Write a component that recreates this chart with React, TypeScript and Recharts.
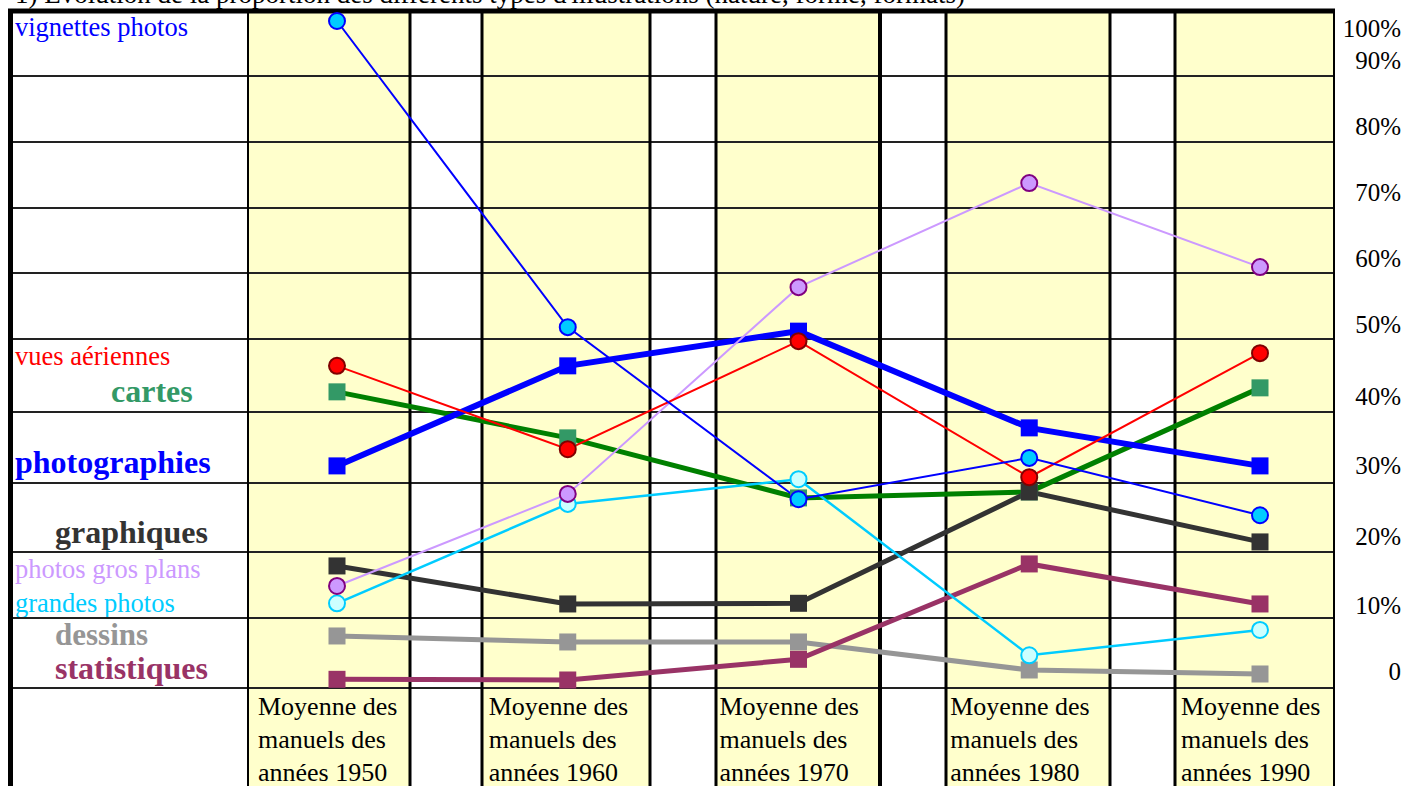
import React from "react";
import {
  LineChart,
  Line,
  XAxis,
  YAxis,
  ReferenceArea,
  ReferenceLine,
  Customized
} from "recharts";

// valeurs, en % des illustrations
const categories = [
  "Moyenne des manuels des années 1950",
  "Moyenne des manuels des années 1960",
  "Moyenne des manuels des années 1970",
  "Moyenne des manuels des années 1980",
  "Moyenne des manuels des années 1990"
];
const vignettesPhotos = [100, 54.1, 28.3, 34.5, 25.9];
const vuesAeriennes = [48.3, 35.8, 52.0, 31.6, 50.2];
const cartes = [44.4, 37.5, 28.5, 29.4, 45.0];
const photographies = [33.3, 48.3, 53.5, 39.0, 33.3];
const graphiques = [18.3, 12.6, 12.7, 29.4, 21.9];
const photosGrosPlans = [15.3, 29.1, 60.1, 75.7, 63.1];
const grandesPhotos = [12.7, 27.6, 31.3, 4.9, 8.7];
const dessins = [7.8, 6.9, 6.9, 2.7, 2.1];
const statistiques = [1.3, 1.2, 4.3, 18.6, 12.6];
const percentLabels = ["0", "10%", "20%", "30%", "40%", "50%", "60%", "70%", "80%", "90%", "100%"];
const title = "1) Évolution de la proportion des différents types d'illustrations (nature, forme, formats)";

// mise en page (pixels du tableau de fond)
const W = 1406;
const H = 787;
const AXIS_H = 1;
const PLOT = { left: 8, right: 1335, top: 10, bottom: H - AXIS_H };
const ZERO_Y = 688;
const PX_PER_PCT = 6.67;
const FIRST_X = 337;
const STEP_X = 230.75;
const toX = (px: number) => (px - FIRST_X) / STEP_X;
const toY = (py: number) => (ZERO_Y - py) / PX_PER_PCT;
const xDomain = [toX(PLOT.left), toX(PLOT.right)];
const yDomain = [toY(PLOT.bottom), toY(PLOT.top)];

const rowLines = [76, 142, 208, 273, 339, 412, 483, 552, 618, 688];
const colLines = [
  { px: 10.5, w: 5 },
  { px: 248, w: 2 },
  { px: 410, w: 3 },
  { px: 482, w: 3 },
  { px: 650, w: 3 },
  { px: 716, w: 3 },
  { px: 880, w: 4 },
  { px: 946, w: 3 },
  { px: 1110, w: 3 },
  { px: 1175, w: 3 },
  { px: 1334, w: 2 }
];
const yellowCols = [[248, 410], [482, 650], [716, 880], [946, 1110], [1175, 1334]];
const percentLabelY = [671, 605, 536, 465, 396, 324, 258, 192, 126, 60, 28];
const percentTicks = percentLabelY.map(toY);

const FONT = "'Liberation Serif', 'Times New Roman', serif";

type Serie = {
  key: string;
  values: number[];
  stroke: string;
  width: number;
  mark: "circle" | "square";
  fill: string;
  dotStroke?: string;
  label: { x: number; y: number; size: number; bold: boolean; color: string };
};

const series: Serie[] = [
  { key: "dessins", values: dessins, stroke: "#969696", width: 5, mark: "square", fill: "#969696",
    label: { x: 55, y: 645, size: 31, bold: true, color: "#969696" } },
  { key: "statistiques", values: statistiques, stroke: "#993366", width: 5, mark: "square", fill: "#993366",
    label: { x: 55, y: 679, size: 32, bold: true, color: "#993366" } },
  { key: "cartes", values: cartes, stroke: "#008000", width: 5, mark: "square", fill: "#339966",
    label: { x: 111, y: 402, size: 32, bold: true, color: "#339966" } },
  { key: "graphiques", values: graphiques, stroke: "#333333", width: 5, mark: "square", fill: "#333333",
    label: { x: 55, y: 543, size: 32, bold: true, color: "#333333" } },
  { key: "photographies", values: photographies, stroke: "#0000FF", width: 6, mark: "square", fill: "#0000FF",
    label: { x: 15, y: 473, size: 32, bold: true, color: "#0000FF" } },
  { key: "grandes photos", values: grandesPhotos, stroke: "#00CCFF", width: 2.5, mark: "circle", fill: "#CCFFFF", dotStroke: "#00CCFF",
    label: { x: 15, y: 612, size: 26.5, bold: false, color: "#00CCFF" } },
  { key: "photos gros plans", values: photosGrosPlans, stroke: "#CC99FF", width: 2, mark: "circle", fill: "#CC99FF", dotStroke: "#800080",
    label: { x: 15, y: 578, size: 26.5, bold: false, color: "#CC99FF" } },
  { key: "vues aériennes", values: vuesAeriennes, stroke: "#FF0000", width: 2, mark: "circle", fill: "#FF0000", dotStroke: "#800000",
    label: { x: 15, y: 365, size: 26.5, bold: false, color: "#FF0000" } },
  { key: "vignettes photos", values: vignettesPhotos, stroke: "#0000FF", width: 2, mark: "circle", fill: "#00CCFF", dotStroke: "#0000FF",
    label: { x: 15, y: 36, size: 26.5, bold: false, color: "#0000FF" } }
];

const data = categories.map((c, i) => {
  const row: Record<string, number | string> = { idx: i, name: c };
  series.forEach((s) => (row[s.key] = s.values[i]));
  return row;
});

function wrap(text: string) {
  const words = text.split(" ");
  const lines: string[] = [];
  for (let i = 0; i < words.length; i += 2) lines.push(words.slice(i, i + 2).join(" "));
  return lines;
}

function CategoryTick(props: any) {
  const { x, payload } = props;
  const lines = wrap(categories[Number(payload.value)] || "");
  const left = x - 79;
  return (
    <text x={left} y={ZERO_Y + 27} fontFamily={FONT} fontSize={26} fill="#000">
      {lines.map((l, i) => (
        <tspan key={i} x={left} dy={i === 0 ? 0 : 33}>{l}</tspan>
      ))}
    </text>
  );
}

function PercentTick(props: any) {
  const { x, y, payload } = props;
  const i = percentTicks.findIndex((t) => Math.abs(t - payload.value) < 0.01);
  return (
    <text x={x + 66} y={y} dy="0.35em" textAnchor="end" fontFamily={FONT} fontSize={25} fill="#000">
      {percentLabels[i]}
    </text>
  );
}

function makeDot(s: Serie) {
  return (p: any) => {
    const { cx, cy, index } = p;
    if (cx == null || cy == null) return <g key={index} />;
    if (s.mark === "square") {
      return <rect key={index} x={cx - 8.5} y={cy - 8.5} width={17} height={17} fill={s.fill} />;
    }
    return <circle key={index} cx={cx} cy={cy} r={8} fill={s.fill} stroke={s.dotStroke} strokeWidth={2} />;
  };
}

function Texts() {
  return (
    <g>
      <text x={15} y={3} fontFamily={FONT} fontSize={27} fill="#000">{title}</text>
      {series.map((s) => (
        <text
          key={s.key}
          x={s.label.x}
          y={s.label.y}
          fontFamily={FONT}
          fontSize={s.label.size}
          fontWeight={s.label.bold ? "bold" : "normal"}
          fill={s.label.color}
        >
          {s.key}
        </text>
      ))}
    </g>
  );
}

export default function App(): JSX.Element {
  return (
    <div style={{ position: "absolute", left: 0, top: 0, width: W, height: H, background: "#fff" }}>
      <LineChart
        width={W}
        height={H}
        data={data}
        margin={{ top: PLOT.top, right: 0, bottom: 0, left: PLOT.left }}
      >
        <XAxis
          dataKey="idx"
          type="number"
          domain={xDomain}
          allowDataOverflow
          ticks={[0, 1, 2, 3, 4]}
          interval={0}
          height={AXIS_H}
          axisLine={false}
          tickLine={false}
          tickSize={0}
          tickMargin={0}
          tick={<CategoryTick />}
        />
        <YAxis
          orientation="right"
          type="number"
          domain={yDomain}
          allowDataOverflow
          ticks={percentTicks}
          interval={0}
          width={W - PLOT.right}
          axisLine={false}
          tickLine={false}
          tickSize={0}
          tickMargin={0}
          tick={<PercentTick />}
        />
        {yellowCols.map(([a, b]) => (
          <ReferenceArea
            key={a}
            x1={toX(a)}
            x2={toX(b)}
            y1={yDomain[0]}
            y2={yDomain[1]}
            fill="#FFFFCC"
            fillOpacity={1}
            stroke="none"
          />
        ))}
        {rowLines.map((py) => (
          <ReferenceLine key={py} y={toY(py)} stroke="#222" strokeWidth={2} />
        ))}
        {colLines.map((c) => (
          <ReferenceLine key={c.px} x={toX(c.px)} stroke="#000" strokeWidth={c.w} />
        ))}
        <ReferenceLine y={toY(11)} stroke="#000" strokeWidth={5} />
        <Customized component={<Texts />} />
        {series.map((s) => (
          <Line
            key={s.key}
            type="linear"
            dataKey={s.key}
            stroke={s.stroke}
            strokeWidth={s.width}
            dot={makeDot(s)}
            activeDot={false}
            isAnimationActive={false}
          />
        ))}
      </LineChart>
    </div>
  );
}
